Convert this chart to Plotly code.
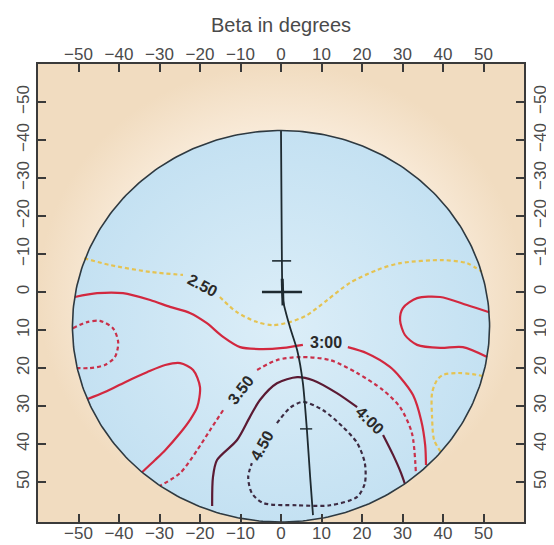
import numpy as np
import plotly.graph_objects as go

# ---------------- axis ticks ----------------
tick_vals = [-50, -40, -30, -20, -10, 0, 10, 20, 30, 40, 50]
x_range = [-60, 60]
y_range = [60.5, -60]

# ---------------- domain circle ----------------
circle_cx, circle_cy, circle_r = 0.0, 9.0, 51.5

# ---------------- contour 2.50 (yellow, dashed) ----------------
c250_a_x = [-48.6, -42.2, -32.3, -24.2]
c250_a_y = [-8.9, -7.1, -5.3, -4.5]
c250_b_x = [-15.1, -10.9, -5.9, -2.0, 2.2, 6.4, 11.4, 17.0, 23.7, 29.4, 40.0, 45.9, 49.6]
c250_b_y = [1.3, 5.3, 7.9, 8.7, 7.9, 6.1, 2.1, -2.4, -5.8, -7.6, -8.4, -7.6, -5.3]
c250_c_x = [49.9, 47.2, 43.7, 40.0, 38.5, 37.3, 37.3, 37.8, 39.5]
c250_c_y = [22.1, 21.6, 21.3, 21.8, 23.2, 26.6, 32.9, 38.9, 42.1]

# ---------------- contour 3.00 (red, solid) ----------------
c300_a_x = [-50.9, -45.4, -39.0, -32.3, -27.4, -22.5, -18.3, -14.3, -10.1, -5.2, 0.5, 5.4]
c300_a_y = [1.3, 0.3, 0.3, 2.1, 3.9, 5.5, 8.2, 11.8, 14.5, 15.0, 14.7, 13.9]
c300_b_x = [16.5, 21.2, 26.9, 29.4, 32.6, 34.6, 35.6, 35.8]
c300_b_y = [14.5, 16.1, 19.7, 22.4, 27.1, 33.7, 40.3, 45.5]
c300_c_x = [51.4, 45.9, 39.3, 33.6, 30.1, 29.4, 30.6, 33.6, 39.3, 44.9, 50.9]
c300_c_y = [5.3, 3.4, 1.3, 1.6, 4.2, 7.4, 11.3, 13.9, 14.7, 14.5, 17.1]
c300_d_x = [-47.9, -43.5, -38.5, -33.1, -28.6, -24.9, -21.7, -20.0, -20.7, -22.5, -24.9, -28.6, -31.1, -34.3]
c300_d_y = [28.2, 26.3, 23.7, 21.1, 19.2, 18.7, 20.5, 25.0, 30.3, 33.7, 37.1, 41.6, 44.2, 47.4]

# ---------------- contour 3.50 (red, dashed) ----------------
c350_a_x = [-51.4, -47.9, -44.7, -41.5, -40.2, -41.0, -43.5, -47.2, -50.4]
c350_a_y = [9.5, 7.9, 7.6, 9.5, 13.2, 17.1, 19.2, 20.0, 20.0]
c350_b_x = [-5.9, -1.0, 4.7, 12.1, 18.8, 25.2, 29.4, 32.3, 33.3]
c350_b_y = [20.5, 17.9, 17.1, 17.9, 21.3, 25.8, 30.3, 37.0, 47.5]
c350_c_x = [-14.3, -17.5, -20.7, -24.9, -29.9]
c350_c_y = [31.1, 36.3, 41.6, 47.6, 51.0]

# ---------------- contour 4.00 (dark red, solid) ----------------
c400_a_x = [-17.0, -16.8, -15.8, -10.9, -7.7, -5.2, -1.0, 4.0, 7.9, 13.8, 18.8]
c400_a_y = [56.3, 48.7, 44.2, 39.0, 32.9, 28.4, 24.0, 22.4, 23.2, 26.6, 30.3]
c400_b_x = [25.2, 27.7, 29.6, 30.6]
c400_b_y = [37.6, 42.9, 47.5, 50.5]

# ---------------- contour 4.50 (dark, dashed) ----------------
c450_x = [-1.0, 2.2, 5.4, 10.4, 15.3, 18.8, 20.7, 20.7, 18.8, 12.1, 4.0, -4.4, -7.2, -8.1, -7.2]
c450_y = [34.5, 30.5, 28.9, 31.1, 35.5, 39.7, 45.0, 50.3, 53.9, 56.1, 56.1, 55.5, 52.9, 48.7, 45.0]

# ---------------- contour labels ----------------
label_text = ["2.50", "3:00", "3.50", "4:00", "4.50"]
label_x = [-19.3, 11.1, -10.1, 22.0, -4.7]
label_y = [-1.8, 13.4, 25.8, 33.7, 40.3]
label_angle = [28, 0, -52, 45, -61]

# ---------------- black path and crosses ----------------
path_x = [0.0, 0.2, 0.5, 2.2, 4.0, 5.4, 6.4, 7.2, 7.9]
path_y = [-42.6, -11.1, 2.1, 9.2, 15.3, 23.9, 36.3, 48.7, 58.7]
cross_y = [-8.2, 0.0, 36.0]
cross_x0 = [-2.2, -4.7, 4.7]
cross_x1 = [2.5, 5.2, 7.7]

fig = go.Figure()

# background (beige, radial)
fig.add_trace(go.Scatter(
    x=[x_range[0], x_range[1], x_range[1], x_range[0], x_range[0]],
    y=[-60, -60, 60.5, 60.5, -60],
    mode="lines", line=dict(width=0), fill="toself",
    fillgradient=dict(type="radial",
                      colorscale=[[0, "#FEF8F0"], [0.65, "#FAEDDD"], [1, "#F1DCC0"]]),
    hoverinfo="skip", showlegend=False))

# circle
theta = np.linspace(0, 2 * np.pi, 361)
cx = circle_cx + circle_r * np.cos(theta)
cy = circle_cy + circle_r * np.sin(theta)
fig.add_trace(go.Scatter(
    x=cx, y=cy, mode="lines", line=dict(width=0), fill="toself",
    fillgradient=dict(type="radial",
                      colorscale=[[0, "#DCEEF8"], [1, "#C4E1F2"]]),
    hoverinfo="skip", showlegend=False))

def add_line(xs, ys, color, dash, width=2.2):
    fig.add_trace(go.Scatter(
        x=xs, y=ys, mode="lines",
        line=dict(color=color, width=width, dash=dash, shape="spline", smoothing=0.8),
        hoverinfo="skip", showlegend=False))

yel = "#E5C352"
red = "#D2283F"
red_d = "#C9304A"
dark = "#5B1A33"
dark2 = "#3D2B42"
dsh = "4px,3px"

add_line(c250_a_x, c250_a_y, yel, dsh)
add_line(c250_b_x, c250_b_y, yel, dsh)
add_line(c250_c_x, c250_c_y, yel, dsh)
add_line(c300_a_x, c300_a_y, red, "solid")
add_line(c300_b_x, c300_b_y, red, "solid")
add_line(c300_c_x, c300_c_y, red, "solid")
add_line(c300_d_x, c300_d_y, red, "solid")
add_line(c350_a_x, c350_a_y, red_d, dsh)
add_line(c350_b_x, c350_b_y, red_d, dsh)
add_line(c350_c_x, c350_c_y, red_d, dsh)
add_line(c400_a_x, c400_a_y, dark, "solid")
add_line(c400_b_x, c400_b_y, dark, "solid")
add_line(c450_x, c450_y, dark2, dsh)

# black path
fig.add_trace(go.Scatter(x=path_x, y=path_y, mode="lines",
                         line=dict(color="#1E2A30", width=1.8, shape="spline", smoothing=0.6),
                         hoverinfo="skip", showlegend=False))
for yy, a, b, w in zip(cross_y, cross_x0, cross_x1, [1.6, 2.4, 1.4]):
    fig.add_trace(go.Scatter(x=[a, b], y=[yy, yy], mode="lines",
                             line=dict(color="#1E2A30", width=w),
                             hoverinfo="skip", showlegend=False))
fig.add_trace(go.Scatter(x=[0.3, 0.5], y=[-3.5, 3.5], mode="lines",
                         line=dict(color="#1E2A30", width=3),
                         hoverinfo="skip", showlegend=False))

# circle outline
fig.add_trace(go.Scatter(x=cx, y=cy, mode="lines",
                         line=dict(color="#2E3940", width=1.6),
                         hoverinfo="skip", showlegend=False))

# anchor traces for the top/right axes
fig.add_trace(go.Scatter(x=[0], y=[0], xaxis="x2", yaxis="y2", mode="markers",
                         marker=dict(opacity=0), hoverinfo="skip", showlegend=False))

for t, x, y, a in zip(label_text, label_x, label_y, label_angle):
    fig.add_annotation(x=x, y=y, text=t, textangle=a, showarrow=False,
                       font=dict(size=16, color="#2A2A2A", family="Liberation Sans",
                                 weight="bold"))

tickfont = dict(size=17, color="#4A4A4A", family="Liberation Sans")
axis_common = dict(tickvals=tick_vals, ticks="inside", ticklen=8, tickwidth=2,
                   tickcolor="#3A3A3A", showgrid=False, zeroline=False,
                   tickfont=tickfont, automargin=False)

fig.update_layout(
    width=546, height=537,
    margin=dict(l=30, r=30, t=56, b=23),
    paper_bgcolor="white", plot_bgcolor="#F6E6CF",
    xaxis=dict(range=x_range, showline=True, linecolor="#3A3A3A", linewidth=2,
               mirror=True, ticklabelstandoff=-5, **axis_common),
    yaxis=dict(range=y_range, showline=True, linecolor="#3A3A3A", linewidth=2,
               mirror=True, tickangle=-90, **axis_common),
    xaxis2=dict(range=x_range, overlaying="x", side="top", anchor="y",
                title=dict(text="Beta in degrees", standoff=6,
                           font=dict(size=20, color="#4A4A4A", family="Liberation Sans")),
                **axis_common),
    yaxis2=dict(range=y_range, overlaying="y", side="right", anchor="x",
                tickangle=-90, ticklabelstandoff=4, **axis_common),
)

fig.write_html("out.html")
